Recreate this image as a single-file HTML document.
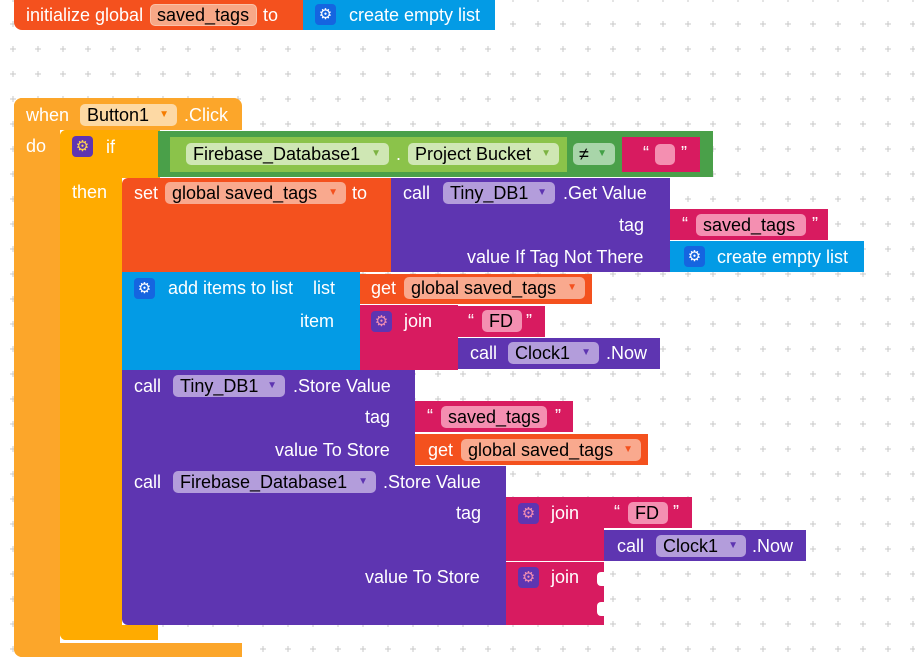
<!DOCTYPE html>
<html><head><meta charset="utf-8"><style>
body{margin:0;width:915px;height:664px;overflow:hidden;background:#fff;position:relative;font-family:"Liberation Sans",sans-serif}
.b{position:absolute}
.t{position:absolute;color:#fff;font-size:18px;line-height:22px;white-space:nowrap}
.f{position:absolute;height:22px;line-height:22px;border-radius:5px;color:#000;font-size:18px;white-space:nowrap;padding-left:7px;box-sizing:border-box}
.f i{font-style:normal;font-size:10px;position:absolute;right:8px;top:0}
.g{position:absolute;width:21px;height:21px;border-radius:4px;color:#fff;font-size:15px;line-height:21px;text-align:center;font-family:"DejaVu Sans",sans-serif}
.q{position:absolute;color:#fff;font-size:18px;line-height:22px}
.or{background:#f4511e}.pu{background:#5e35b1}.pk{background:#d81b60}.bl{background:#039be5}
.fo{background:#f9a98e}.fp{background:#b39ddb}.fk{background:#f48fb1}
</style></head><body>
<svg class="b" style="left:0;top:0" width="915" height="664"><defs><pattern id="p" x="0.5" y="11.5" width="25" height="25" patternUnits="userSpaceOnUse"><path d="M9.5 12.5H15.5M12.5 9.5V15.5" stroke="#c8c8c8" stroke-width="1"/></pattern></defs><rect x="0" y="0" width="915" height="664" fill="url(#p)"/></svg>

<!-- init -->
<div class="b or" style="left:14px;top:0;width:290px;height:30px;border-radius:0 0 0 8px"></div>
<div class="t" style="left:26px;top:4px">initialize global</div>
<div class="f" style="left:150px;top:4px;width:107px;background:#f7a887;border:1px solid #fbc2a9;line-height:20px;padding-left:6px">saved_tags</div>
<div class="t" style="left:263px;top:4px">to</div>
<div class="b bl" style="left:303px;top:0;width:192px;height:30px"></div>
<div class="g" style="left:315px;top:4px;background:#1565e0">⚙</div>
<div class="t" style="left:349px;top:4px">create empty list</div>

<!-- when -->
<div class="b" style="left:14px;top:98px;width:228px;height:32px;background:#fca62a;border-radius:8px 8px 0 0"></div>
<div class="b" style="left:14px;top:98px;width:46px;height:559px;background:#fca62a;border-radius:8px 0 0 8px"></div>
<div class="b" style="left:14px;top:643px;width:228px;height:14px;background:#fca62a;border-radius:0 0 0 8px"></div>
<div class="t" style="left:26px;top:104px">when</div>
<div class="f" style="left:80px;top:104px;width:97px;background:#fdd9a4">Button1<i style="color:#f57c00">▼</i></div>
<div class="t" style="left:184px;top:104px">.Click</div>
<div class="t" style="left:26px;top:135px">do</div>

<!-- if -->
<div class="b" style="left:60px;top:130px;width:100px;height:48px;background:#ffab00;border-radius:6px 0 0 0"></div>
<div class="b" style="left:60px;top:130px;width:62px;height:510px;background:#ffab00;border-radius:6px 0 0 6px"></div>
<div class="b" style="left:60px;top:625px;width:98px;height:15px;background:#ffab00;border-radius:0 0 0 6px"></div>
<div class="g" style="left:72px;top:136px;background:#5e35b1;color:#ffd54f">⚙</div>
<div class="t" style="left:106px;top:136px">if</div>
<div class="t" style="left:72px;top:181px">then</div>

<!-- compare -->
<div class="b" style="left:158px;top:131px;width:555px;height:46px;background:#4aa049"></div>
<div class="b" style="left:170px;top:137px;width:397px;height:35px;background:#8bc34a"></div>
<div class="f" style="left:186px;top:143px;width:203px;background:#cfe7b4">Firebase_Database1<i style="color:#7cb342">▼</i></div>
<div class="t" style="left:396px;top:143px">.</div>
<div class="f" style="left:408px;top:143px;width:151px;background:#cfe7b4">Project Bucket<i style="color:#7cb342">▼</i></div>
<div class="f" style="left:573px;top:143px;width:42px;background:#a8d5a9;padding-left:6px">≠<i style="color:#43a047">▼</i></div>
<div class="b pk" style="left:622px;top:137px;width:78px;height:35px"></div>
<div class="q" style="left:643px;top:142px">“</div>
<div class="b" style="left:655px;top:144px;width:20px;height:21px;background:#f48fb1;border-radius:5px"></div>
<div class="q" style="left:681px;top:142px">”</div>

<!-- set -->
<div class="b or" style="left:122px;top:178px;width:270px;height:94px;border-radius:6px 0 0 0"></div>
<div class="t" style="left:134px;top:182px">set</div>
<div class="f fo" style="left:165px;top:182px;width:181px">global saved_tags<i style="color:#f4511e">▼</i></div>
<div class="t" style="left:352px;top:182px">to</div>
<div class="b pu" style="left:391px;top:178px;width:279px;height:94px"></div>
<div class="t" style="left:403px;top:182px">call</div>
<div class="f fp" style="left:443px;top:182px;width:112px">Tiny_DB1<i style="color:#5e35b1">▼</i></div>
<div class="t" style="left:563px;top:182px">.Get Value</div>
<div class="t" style="left:619px;top:214px">tag</div>
<div class="t" style="left:467px;top:246px">value If Tag Not There</div>
<div class="b pk" style="left:670px;top:209px;width:158px;height:31px"></div>
<div class="q" style="left:682px;top:213px">“</div>
<div class="f fk" style="left:696px;top:214px;width:110px">saved_tags</div>
<div class="q" style="left:812px;top:213px">”</div>
<div class="b bl" style="left:670px;top:241px;width:194px;height:31px"></div>
<div class="g" style="left:684px;top:246px;background:#1565e0">⚙</div>
<div class="t" style="left:717px;top:246px">create empty list</div>

<!-- add items -->
<div class="b bl" style="left:122px;top:272px;width:238px;height:98px"></div>
<div class="g" style="left:134px;top:278px;background:#1565e0">⚙</div>
<div class="t" style="left:168px;top:277px">add items to list</div>
<div class="t" style="left:313px;top:277px">list</div>
<div class="t" style="left:300px;top:310px">item</div>
<div class="b or" style="left:360px;top:274px;width:232px;height:30px"></div>
<div class="t" style="left:371px;top:277px">get</div>
<div class="f fo" style="left:404px;top:277px;width:181px">global saved_tags<i style="color:#f4511e">▼</i></div>
<div class="b pk" style="left:360px;top:305px;width:98px;height:65px"></div>
<div class="g" style="left:371px;top:311px;background:#5e35b1;color:#f48fb1">⚙</div>
<div class="t" style="left:404px;top:310px">join</div>
<div class="b pk" style="left:458px;top:306px;width:87px;height:31px"></div>
<div class="q" style="left:468px;top:310px">“</div>
<div class="f fk" style="left:482px;top:310px;width:40px">FD</div>
<div class="q" style="left:526px;top:310px">”</div>
<div class="b pu" style="left:458px;top:338px;width:202px;height:31px"></div>
<div class="t" style="left:470px;top:342px">call</div>
<div class="f fp" style="left:508px;top:342px;width:91px">Clock1<i style="color:#5e35b1">▼</i></div>
<div class="t" style="left:606px;top:342px">.Now</div>

<!-- tinydb store -->
<div class="b pu" style="left:122px;top:370px;width:293px;height:96px"></div>
<div class="t" style="left:134px;top:375px">call</div>
<div class="f fp" style="left:173px;top:375px;width:112px">Tiny_DB1<i style="color:#5e35b1">▼</i></div>
<div class="t" style="left:293px;top:375px">.Store Value</div>
<div class="t" style="left:365px;top:406px">tag</div>
<div class="t" style="left:275px;top:439px">value To Store</div>
<div class="b pk" style="left:415px;top:401px;width:158px;height:31px"></div>
<div class="q" style="left:427px;top:405px">“</div>
<div class="f fk" style="left:441px;top:406px;width:106px">saved_tags</div>
<div class="q" style="left:555px;top:405px">”</div>
<div class="b or" style="left:415px;top:434px;width:233px;height:31px"></div>
<div class="t" style="left:428px;top:439px">get</div>
<div class="f fo" style="left:461px;top:439px;width:180px">global saved_tags<i style="color:#f4511e">▼</i></div>

<!-- firebase store -->
<div class="b pu" style="left:122px;top:466px;width:384px;height:159px;border-radius:0 0 0 6px"></div>
<div class="t" style="left:134px;top:471px">call</div>
<div class="f fp" style="left:173px;top:471px;width:203px">Firebase_Database1<i style="color:#5e35b1">▼</i></div>
<div class="t" style="left:383px;top:471px">.Store Value</div>
<div class="t" style="left:456px;top:502px">tag</div>
<div class="t" style="left:365px;top:566px">value To Store</div>
<div class="b pk" style="left:506px;top:497px;width:98px;height:64px"></div>
<div class="g" style="left:518px;top:503px;background:#5e35b1;color:#f48fb1">⚙</div>
<div class="t" style="left:551px;top:502px">join</div>
<div class="b pk" style="left:604px;top:497px;width:88px;height:31px"></div>
<div class="q" style="left:614px;top:501px">“</div>
<div class="f fk" style="left:628px;top:502px;width:40px">FD</div>
<div class="q" style="left:673px;top:501px">”</div>
<div class="b pu" style="left:604px;top:530px;width:202px;height:31px"></div>
<div class="t" style="left:617px;top:535px">call</div>
<div class="f fp" style="left:656px;top:535px;width:90px">Clock1<i style="color:#5e35b1">▼</i></div>
<div class="t" style="left:752px;top:535px">.Now</div>
<div class="b pk" style="left:506px;top:562px;width:98px;height:63px"></div>
<div class="g" style="left:518px;top:567px;background:#5e35b1;color:#f48fb1">⚙</div>
<div class="t" style="left:551px;top:566px">join</div>
<div class="b" style="left:597px;top:572px;width:8px;height:14px;background:#fff;border-radius:4px 0 0 4px"></div>
<div class="b" style="left:597px;top:602px;width:8px;height:14px;background:#fff;border-radius:4px 0 0 4px"></div>
</body></html>
